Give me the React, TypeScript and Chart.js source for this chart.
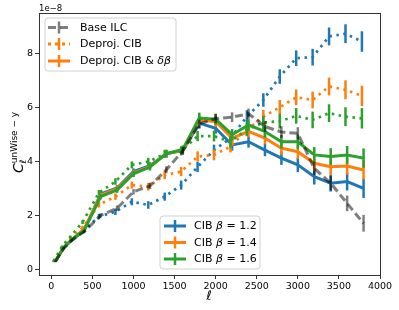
import React, { useEffect, useRef } from "react";
import { Chart, registerables } from "chart.js";
Chart.register(...registerables);

// multipole bins
const ell = [50, 150, 250, 400, 600, 800, 1000, 1200, 1400, 1600, 1800, 2000, 2200, 2400, 2600, 2800, 3000, 3200, 3400, 3600, 3800];
const dottedShift = -20;

// values in units of 1e-8
const baseILC = [0.3, 0.78, 1.08, 1.4, 2.0, 2.27, 2.88, 3.1, 3.7, 4.4, 5.4, 5.6, 5.65, 5.78, 5.3, 5.1, 5.05, 3.75, 3.2, 2.45, 1.71];
const baseErr = [0.03, 0.04, 0.05, 0.06, 0.08, 0.1, 0.1, 0.12, 0.13, 0.14, 0.16, 0.17, 0.18, 0.19, 0.2, 0.22, 0.23, 0.25, 0.27, 0.29, 0.31];

const deprojB12 = [0.3, 0.75, 1.05, 1.4, 1.96, 2.14, 2.51, 2.39, 2.7, 3.13, 3.8, 4.43, 4.87, 5.67, 6.29, 7.16, 7.84, 7.88, 8.65, 8.75, 8.46];
const deprojB14 = [0.3, 0.8, 1.1, 1.55, 2.4, 2.7, 3.13, 3.07, 3.5, 3.63, 4.19, 4.25, 4.56, 5.18, 5.67, 6.02, 6.39, 6.29, 6.79, 6.67, 6.44];
const deprojB16 = [0.3, 0.85, 1.2, 1.75, 2.85, 3.26, 3.88, 4.0, 4.29, 4.4, 4.95, 4.95, 4.74, 5.2, 5.45, 5.5, 5.7, 5.55, 5.8, 5.67, 5.61];
const deprojErr = [0.03, 0.04, 0.05, 0.07, 0.1, 0.12, 0.13, 0.14, 0.15, 0.17, 0.19, 0.2, 0.22, 0.24, 0.25, 0.27, 0.29, 0.31, 0.33, 0.35, 0.38];

const dbB12 = [0.3, 0.8, 1.1, 1.45, 2.8, 3.02, 3.63, 3.85, 4.29, 4.42, 5.43, 5.24, 4.62, 4.74, 4.43, 4.13, 3.88, 3.44, 3.2, 3.26, 3.01];
const dbB14 = [0.3, 0.8, 1.1, 1.5, 2.75, 3.0, 3.58, 3.82, 4.3, 4.42, 5.55, 5.49, 4.87, 5.12, 4.87, 4.5, 4.37, 3.94, 3.81, 3.84, 3.69];
const dbB16 = [0.3, 0.8, 1.1, 1.45, 2.7, 2.95, 3.55, 3.8, 4.3, 4.45, 5.62, 5.58, 5.0, 5.36, 5.12, 4.74, 4.74, 4.25, 4.19, 4.25, 4.13];
const dbErr = [0.03, 0.04, 0.05, 0.06, 0.1, 0.11, 0.12, 0.13, 0.14, 0.15, 0.2, 0.2, 0.21, 0.22, 0.23, 0.25, 0.27, 0.29, 0.31, 0.33, 0.36];

const xTicks = [0, 500, 1000, 1500, 2000, 2500, 3000, 3500, 4000];
const yTicks = [0, 2, 4, 6, 8];

const BLUE = "#1f77b4";
const ORANGE = "#ff7f0e";
const GREEN = "#2ca02c";
const GRAY = "rgba(0,0,0,0.5)";
const FONT = "DejaVu Sans";
const DOT = [2.5, 4.5];
const DASH = [8, 4];

function mk(xs: number[], ys: number[], errs: number[], color: string, dash: number[], order: number, label: string) {
  return {
    label,
    data: xs.map((x, i) => ({ x, y: ys[i] })),
    errs,
    borderColor: color,
    backgroundColor: color,
    borderWidth: dash === DOT ? 2.7 : 3,
    borderDash: dash,
    pointRadius: 0,
    pointHoverRadius: 0,
    fill: false,
    tension: 0,
    order,
  };
}

const errPlugin = {
  id: "errbars",
  afterDatasetDraw(chart: any, args: any) {
    const ds = chart.data.datasets[args.index];
    const xs = chart.scales.x;
    const ys = chart.scales.y;
    const c = chart.ctx;
    c.save();
    c.strokeStyle = ds.borderColor;
    c.lineWidth = 2.5;
    c.setLineDash([]);
    ds.data.forEach((p: any, i: number) => {
      const e = ds.errs[i];
      const px = xs.getPixelForValue(p.x);
      c.beginPath();
      c.moveTo(px, ys.getPixelForValue(p.y - e));
      c.lineTo(px, ys.getPixelForValue(p.y + e));
      c.stroke();
    });
    c.restore();
  },
};

function roundRect(c: CanvasRenderingContext2D, x: number, y: number, w: number, h: number, r: number) {
  c.beginPath();
  c.moveTo(x + r, y);
  c.lineTo(x + w - r, y);
  c.arcTo(x + w, y, x + w, y + r, r);
  c.lineTo(x + w, y + h - r);
  c.arcTo(x + w, y + h, x + w - r, y + h, r);
  c.lineTo(x + r, y + h);
  c.arcTo(x, y + h, x, y + h - r, r);
  c.lineTo(x, y + r);
  c.arcTo(x, y, x + r, y, r);
  c.closePath();
}

function legendBox(c: CanvasRenderingContext2D, x: number, y: number, w: number, h: number) {
  c.save();
  roundRect(c, x, y, w, h, 3);
  c.fillStyle = "rgba(255,255,255,0.8)";
  c.fill();
  c.strokeStyle = "#d0d0d0";
  c.lineWidth = 1;
  c.stroke();
  c.restore();
}

function sample(c: CanvasRenderingContext2D, cx: number, cy: number, color: string, dash: number[]) {
  c.save();
  c.strokeStyle = color;
  c.lineWidth = 3;
  c.setLineDash(dash);
  c.beginPath();
  c.moveTo(cx - 11, cy);
  c.lineTo(cx + 11, cy);
  c.stroke();
  c.setLineDash([]);
  c.lineWidth = 2.5;
  c.beginPath();
  c.moveTo(cx, cy - 6);
  c.lineTo(cx, cy + 6);
  c.stroke();
  c.restore();
}

function segText(c: CanvasRenderingContext2D, x: number, y: number, segs: [string, boolean][], size: number) {
  let cx = x;
  for (const [t, it] of segs) {
    c.font = `${it ? "italic " : ""}${size}px "${FONT}"`;
    c.fillText(t, cx, y);
    cx += c.measureText(t).width;
  }
}

const decorPlugin = {
  id: "decor",
  afterDatasetsDraw(chart: any) {
    const c: CanvasRenderingContext2D = chart.ctx;
    const a = chart.chartArea;
    c.save();
    c.strokeStyle = "#333";
    c.lineWidth = 1;
    c.strokeRect(Math.round(a.left) + 0.5, Math.round(a.top) + 0.5, Math.round(a.right - a.left), Math.round(a.bottom - a.top));
    c.restore();
  },
  afterDraw(chart: any) {
    const c: CanvasRenderingContext2D = chart.ctx;
    c.save();
    c.fillStyle = "#000";
    c.textBaseline = "middle";
    // legend 1
    legendBox(c, 45, 18, 131, 53);
    sample(c, 59, 27.5, GRAY, DASH);
    sample(c, 59, 44, ORANGE, [3, 4]);
    sample(c, 59, 61, ORANGE, []);
    segText(c, 80, 28, [["Base ILC", false]], 11);
    segText(c, 80, 44.5, [["Deproj. CIB", false]], 11);
    segText(c, 80, 61.5, [["Deproj. CIB & ", false], ["δβ", true]], 11);
    // legend 2
    legendBox(c, 160, 216, 100, 53);
    sample(c, 175, 226, BLUE, []);
    sample(c, 175, 242.5, ORANGE, []);
    sample(c, 175, 259, GREEN, []);
    segText(c, 194, 226.5, [["CIB ", false], ["β", true], [" = 1.2", false]], 11);
    segText(c, 194, 243, [["CIB ", false], ["β", true], [" = 1.4", false]], 11);
    segText(c, 194, 259.5, [["CIB ", false], ["β", true], [" = 1.6", false]], 11);
    // offset text
    c.font = `8.5px "${FONT}"`;
    c.fillText("1e\u22128", 39, 8.5);
    // x title
    c.textAlign = "center";
    c.font = `italic 13px "${FONT}"`;
    c.fillText("ℓ", 209, 297);
    // y title
    c.textAlign = "left";
    c.textBaseline = "alphabetic";
    c.translate(22.5, 173);
    c.rotate(-Math.PI / 2);
    c.font = `italic 14px "${FONT}"`;
    c.fillText("C", 0, 0);
    const cw = c.measureText("C").width;
    c.font = `9px "${FONT}"`;
    c.fillText("unWise \u2212 y", cw, -6);
    c.font = `italic 9px "${FONT}"`;
    c.fillText("ℓ", cw, 3);
    c.restore();
  },
};

export default function App() {
  const ref = useRef<HTMLCanvasElement>(null);
  useEffect(() => {
    document.body.style.margin = "0";
    const ctx = ref.current!.getContext("2d")!;
    const ellD = ell.map((l) => l + dottedShift);
    const chart = new Chart(ctx, {
      type: "line",
      data: {
        datasets: [
          mk(ell, baseILC, baseErr, GRAY, DASH, 1, "Base ILC"),
          mk(ell, dbB16, dbErr, GREEN, [], 2, "δβ 1.6"),
          mk(ellD, deprojB16, deprojErr, GREEN, DOT, 3, "CIB 1.6"),
          mk(ell, dbB14, dbErr, ORANGE, [], 4, "δβ 1.4"),
          mk(ellD, deprojB14, deprojErr, ORANGE, DOT, 5, "CIB 1.4"),
          mk(ell, dbB12, dbErr, BLUE, [], 6, "δβ 1.2"),
          mk(ellD, deprojB12, deprojErr, BLUE, DOT, 7, "CIB 1.2"),
        ] as any,
      },
      options: {
        responsive: false,
        animation: false,
        devicePixelRatio: 1,
        layout: { padding: { top: 13, right: 19, left: 0, bottom: 0 } },
        plugins: { legend: { display: false }, tooltip: { enabled: false } },
        scales: {
          x: {
            type: "linear",
            min: -150,
            max: 4000,
            afterFit: (s: any) => { s.height = 35; },
            afterBuildTicks: (s: any) => { s.ticks = xTicks.map((v) => ({ value: v })); },
            border: { display: false },
            grid: { display: true, drawOnChartArea: false, drawTicks: true, tickLength: 4, color: "#333" },
            ticks: { autoSkip: false, maxRotation: 0, padding: 2, color: "#000", font: { family: FONT, size: 9.5 }, callback: (v: any) => String(v) },
          },
          y: {
            type: "linear",
            min: -0.21,
            max: 9.52,
            afterFit: (s: any) => { s.width = 39; },
            afterBuildTicks: (s: any) => { s.ticks = yTicks.map((v) => ({ value: v })); },
            border: { display: false },
            grid: { display: true, drawOnChartArea: false, drawTicks: true, tickLength: 4, color: "#333" },
            ticks: { padding: 2, color: "#000", font: { family: FONT, size: 9.5 }, callback: (v: any) => String(v) },
          },
        },
      },
      plugins: [errPlugin, decorPlugin],
    } as any);
    return () => chart.destroy();
  }, []);
  return (
    <div style={{ width: 399, height: 310 }}>
      <canvas ref={ref} width={399} height={310} style={{ display: "block" }} />
    </div>
  );
}
